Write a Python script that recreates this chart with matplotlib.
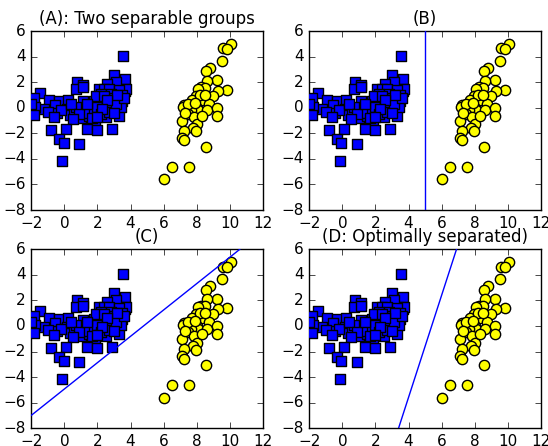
import matplotlib
matplotlib.use('Agg')
import matplotlib.pyplot as plt

# blue group (squares)
blue_x = [3.55, 3.0, 3.65, 0.75, 1.15, 0.72, 1.12, 3.65, 3.7, 3.1, 2.55, 2.1, 2.4, 2.7, 3.3, 2.2, 2.8, 3.5, 3.0,
          -1.45, -1.85, -0.95, -0.35, 0.25, -1.25, -1.75, -1.85, -0.55, -0.45, 0.15, 0.35, -2.0, -1.0, -0.2, -0.6,
          1.15, 1.8, 2.3, 1.7, 2.95, 3.5, 0.95, 1.0, 1.5, 1.85, 2.1, 2.5, 2.9, 3.3, 3.4, 0.6, 1.3, 1.6, 2.0, 2.6,
          2.2, 1.2, 0.7, 2.7, 3.1, 3.6, 1.9, 2.4, 3.2, 0.4, 0.9, 1.4, 2.6, 3.0, 2.3, 1.7, 0.5, 2.0,
          -0.8, 0.1, -0.35, -0.05, 1.35, 1.95, 2.9, 0.9, -0.15]
blue_y = [4.05, 2.6, 2.25, 2.0, 1.8, 1.5, 1.6, 1.35, 1.5, 2.05, 1.85, 1.45, 1.45, 1.45, 1.4, 1.1, 1.1, 1.0, 0.8,
          1.2, 0.75, 0.65, 0.55, 0.6, -0.1, 0.05, -0.55, 0.25, -0.4, -0.1, -0.55, 0.3, -0.3, -0.2, -0.7,
          0.5, 0.55, 0.45, 0.25, 0.5, 0.55, -0.15, -0.8, -0.6, -1.05, -0.2, -0.75, -0.1, -0.6, 0.05, -0.3, 0.0,
          -0.2, 0.1, 0.2, -0.5, -0.4, 0.1, -0.3, 0.3, 0.8, 0.9, 0.9, 1.0, 0.3, -0.5, 0.3, 0.6, -0.4, -0.1,
          -0.8, -0.9, -0.7,
          -1.7, -1.65, -2.4, -2.75, -1.65, -1.75, -1.65, -2.8, -4.15]

# yellow group (circles)
yellow_x = [10.1, 9.6, 9.85, 9.5, 8.8, 8.55, 9.25, 8.6, 8.25, 8.5, 8.1, 9.85, 9.3, 9.0, 7.95, 7.7, 8.35, 7.25,
            7.15, 8.75, 8.0, 8.1, 7.65, 7.45, 8.65, 9.2, 9.2, 7.85, 7.1, 8.0, 7.8, 7.95, 7.25, 7.1, 7.25, 8.55,
            6.52, 7.55, 6.02, 8.2, 7.5, 8.3, 7.9, 8.5, 7.3]
yellow_y = [5.0, 4.65, 4.6, 3.65, 3.15, 2.85, 2.15, 2.1, 1.6, 1.55, 1.5, 1.4, 1.35, 0.95, 0.9, 0.65, 0.6, 0.2,
            0.05, 0.3, 0.0, -0.2, -0.2, -0.45, -0.2, 0.0, -0.6, -0.75, -1.0, -1.3, -1.55, -1.85, -1.8, -2.35,
            -2.55, -3.05, -4.6, -4.6, -5.6, 1.0, 0.3, -0.6, 0.4, 1.0, -0.4]

titles = ['(A): Two separable groups', '(B)', '(C)', '(D: Optimally separated)']

# separating lines for B, C, D (two end points each)
line_b = ([5.0, 5.0], [-8.0, 6.0])
line_c = ([-2.0, 10.6], [-7.0, 6.0])
line_d = ([3.4, 6.9], [-8.0, 6.0])
lines = [None, line_b, line_c, line_d]

plt.style.use('classic')
fig, axes = plt.subplots(2, 2, figsize=(5.48, 4.46), dpi=100, facecolor='white')
fig.subplots_adjust(left=0.057, right=0.987, top=0.930, bottom=0.040, wspace=0.20, hspace=0.22)

for ax, title, ln in zip(axes.flat, titles, lines):
    ax.scatter(blue_x, blue_y, s=55, marker='s', c='#0000ff', edgecolors='k', linewidths=1, zorder=3)
    ax.scatter(yellow_x, yellow_y, s=55, marker='o', c='#ffff00', edgecolors='k', linewidths=1, zorder=3)
    if ln is not None:
        ax.plot(ln[0], ln[1], 'b-', lw=1, zorder=4)
    ax.set_xlim(-2, 12)
    ax.set_ylim(-8, 6)
    ax.set_xticks(range(-2, 13, 2))
    ax.set_yticks(range(-8, 7, 2))
    ax.set_title(title, fontsize=12)
    ax.tick_params(labelsize=11)

plt.savefig('out.png', dpi=100, facecolor='white')
